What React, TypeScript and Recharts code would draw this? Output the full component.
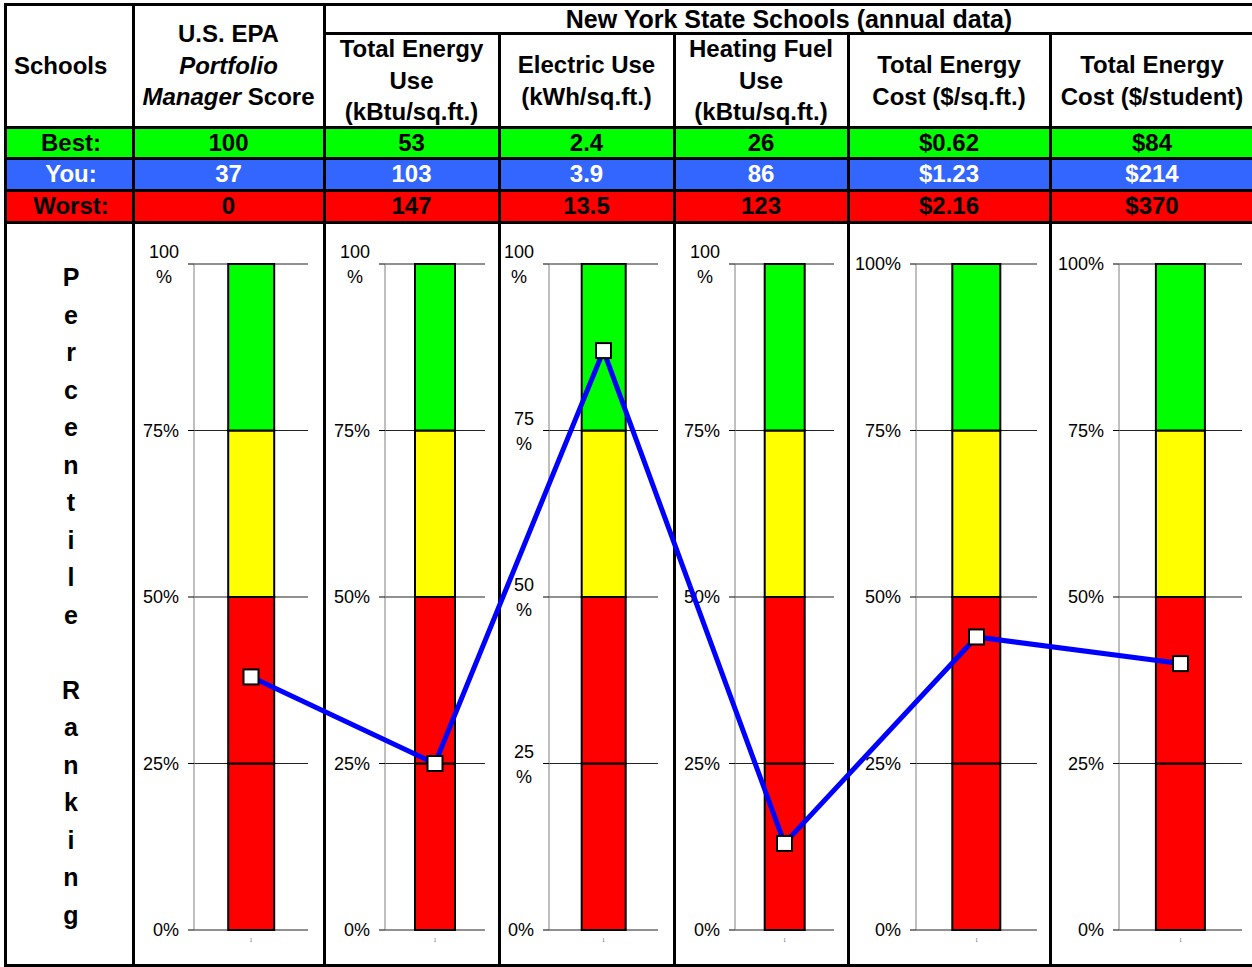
import React from "react";
import { BarChart, Bar, XAxis, YAxis, CartesianGrid, LineChart, Line } from "recharts";

const rowLabels = ["Best:", "You:", "Worst:"];
const bestValues = ["100", "53", "2.4", "26", "$0.62", "$84"];
const youValues = ["37", "103", "3.9", "86", "$1.23", "$214"];
const worstValues = ["0", "147", "13.5", "123", "$2.16", "$370"];

// percentile ranking of "You" in each column (blue line)
const percentileRanks = [38, 25, 87, 13, 44, 40];

// stacked band segments of each thermometer bar (0-25, 25-50, 50-75, 75-100)
const bandSizes = [25, 25, 25, 25];
const yTicks = [0, 25, 50, 75, 100];

const subHeaders = [
  ["Total Energy", "Use", "(kBtu/sq.ft.)"],
  ["Electric Use", "(kWh/sq.ft.)"],
  ["Heating Fuel", "Use", "(kBtu/sq.ft.)"],
  ["Total Energy", "Cost ($/sq.ft.)"],
  ["Total Energy", "Cost ($/student)"],
];

// ---- layout ----
const FONT = "'Liberation Sans', Arial, sans-serif";
const colX = [5, 133, 324, 499, 674, 848, 1050, 1254];
const TOP = 4;
const SUB_TOP = 33;
const ROW_Y = [127, 158, 190, 222];
const BOTTOM = 965;
const CHART_H = BOTTOM - ROW_Y[3];
const rowColors = ["#00FF00", "#3366FF", "#FF0000"];
const rowText = ["#000", "#fff", "#000"];
const bandColors = ["#FF0000", "#FF0000", "#FFFF00", "#00FF00"];

// per panel: y-axis width, right margin, tick labels that wrap onto two lines
const panels = [
  { yw: 60, right: 16, wrap: [100] },
  { yw: 60, right: 14, wrap: [100] },
  { yw: 49, right: 16, wrap: [100, 75, 50, 25] },
  { yw: 60, right: 14, wrap: [100] },
  { yw: 67, right: 13, wrap: [] },
  { yw: 68, right: 12, wrap: [] },
];

const panelLeft = (i: number) => colX[i + 1] + 1;
const panelWidth = (i: number) => colX[i + 2] - colX[i + 1] - 1;
const panelCenter = (i: number) => {
  const p = panels[i];
  const plotW = panelWidth(i) - p.yw - p.right;
  return panelLeft(i) + p.yw + plotW / 2;
};

function PctTick(props: any) {
  const { x, y, payload, wrap } = props;
  const v = payload.value;
  if (wrap.includes(v)) {
    const num = String(v);
    const cx = x - (num.length * 10) / 2;
    return (
      <g>
        <text x={cx} y={y - 12} textAnchor="middle" dominantBaseline="central" fontFamily={FONT} fontSize={18} fill="#000">{num}</text>
        <text x={cx} y={y + 13} textAnchor="middle" dominantBaseline="central" fontFamily={FONT} fontSize={18} fill="#000">%</text>
      </g>
    );
  }
  return (
    <text x={x} y={y} textAnchor="end" dominantBaseline="central" fontFamily={FONT} fontSize={18} fill="#000">{v}%</text>
  );
}

function Panel({ index }: { index: number }) {
  const p = panels[index];
  const row: any = { name: "1" };
  bandSizes.forEach((s, k) => (row["b" + k] = s));
  return (
    <div style={{ position: "absolute", left: panelLeft(index), top: ROW_Y[3], width: panelWidth(index), height: CHART_H }}>
      <BarChart width={panelWidth(index)} height={CHART_H} data={[row]} margin={{ top: 42, right: p.right, bottom: 15, left: 0 }} barCategoryGap="30%">
        <CartesianGrid vertical={false} stroke="#222" />
        <XAxis dataKey="name" height={20} axisLine={false} tickLine={false} tickMargin={2} tick={{ fontSize: 6, fill: "#666" }} />
        <YAxis
          domain={[0, 100]}
          ticks={yTicks}
          interval={0}
          width={p.yw}
          tickSize={6}
          tickMargin={9}
          stroke="#808080"
          tickLine={{ stroke: "#000" }}
          tick={(t: any) => <PctTick {...t} wrap={p.wrap} />}
        />
        {bandSizes.map((_, k) => (
          <Bar key={k} dataKey={"b" + k} stackId="a" fill={bandColors[k]} stroke="#000" strokeWidth={2} isAnimationActive={false} />
        ))}
      </BarChart>
    </div>
  );
}

const SquareDot = (props: any) => {
  const { cx, cy } = props;
  if (cx == null || cy == null) return null;
  return <rect x={cx - 7.5} y={cy - 7.5} width={15} height={15} fill="#fff" stroke="#000" strokeWidth={2} />;
};

const hLine = (y: number, x1: number, x2: number, key: string) => (
  <div key={key} style={{ position: "absolute", left: x1 - 1.5, top: y - 1.5, width: x2 - x1 + 3, height: 3, background: "#000" }} />
);
const vLine = (x: number, y1: number, y2: number, key: string) => (
  <div key={key} style={{ position: "absolute", left: x - 1.5, top: y1 - 1.5, width: 3, height: y2 - y1 + 3, background: "#000" }} />
);

const cellText: React.CSSProperties = {
  position: "absolute",
  display: "flex",
  flexDirection: "column",
  alignItems: "center",
  justifyContent: "center",
  fontFamily: FONT,
  fontWeight: "bold",
  fontSize: 24,
  lineHeight: "31.5px",
  textAlign: "center",
  whiteSpace: "nowrap",
  color: "#000",
};

export default function App() {
  const lineData = percentileRanks.map((r, i) => ({ x: panelCenter(i), rank: r }));
  const rowValues = [bestValues, youValues, worstValues];
  const letters = "Percentile Ranking".split("");
  return (
    <div style={{ position: "absolute", left: 0, top: 0, width: 1252, height: 967, overflow: "hidden", background: "#fff" }}>
      {/* colored rows */}
      {rowColors.map((c, r) => (
        <div key={"bg" + r} style={{ position: "absolute", left: colX[0], top: ROW_Y[r], width: 1254 - colX[0], height: ROW_Y[r + 1] - ROW_Y[r], background: c }} />
      ))}

      {/* header texts */}
      <div style={{ ...cellText, left: 14, top: TOP, height: ROW_Y[0] - TOP, alignItems: "flex-start" }}>Schools</div>
      <div style={{ ...cellText, left: colX[1], top: TOP, width: colX[2] - colX[1], height: ROW_Y[0] - TOP }}>
        <div>U.S. EPA</div>
        <div><i>Portfolio</i></div>
        <div><i>Manager</i> Score</div>
      </div>
      <div style={{ ...cellText, left: colX[2], top: TOP + 1, width: 1254 - colX[2], height: SUB_TOP - TOP, fontSize: 25 }}>New York State Schools (annual data)</div>
      {subHeaders.map((lines, i) => (
        <div key={"sh" + i} style={{ ...cellText, left: colX[i + 2], top: SUB_TOP + 1, width: colX[i + 3] - colX[i + 2], height: ROW_Y[0] - SUB_TOP - 1, overflow: "hidden" }}>
          {lines.map((l, k) => <div key={k}>{l}</div>)}
        </div>
      ))}

      {/* Best / You / Worst rows */}
      {rowValues.map((vals, r) => (
        <React.Fragment key={"row" + r}>
          <div style={{ ...cellText, left: colX[0], top: ROW_Y[r], width: colX[1] - colX[0] + 4, height: ROW_Y[r + 1] - ROW_Y[r], color: rowText[r] }}>{rowLabels[r]}</div>
          {vals.map((v, i) => (
            <div key={i} style={{ ...cellText, left: colX[i + 1], top: ROW_Y[r], width: colX[i + 2] - colX[i + 1], height: ROW_Y[r + 1] - ROW_Y[r], color: rowText[r] }}>{v}</div>
          ))}
        </React.Fragment>
      ))}

      {/* vertical "Percentile Ranking" label */}
      <div style={{ ...cellText, left: colX[0] + 2, top: ROW_Y[3] + 3, width: colX[1] - colX[0], height: BOTTOM - ROW_Y[3], fontSize: 25, lineHeight: "37.5px" }}>
        {letters.map((ch, k) => <div key={k} style={{ height: 37.5 }}>{ch === " " ? "\u00a0" : ch}</div>)}
      </div>

      {/* thermometer panels */}
      {panels.map((_, i) => <Panel key={i} index={i} />)}

      {/* grid borders */}
      {hLine(TOP, colX[0], 1254, "t")}
      {hLine(SUB_TOP, colX[2], 1254, "s")}
      {ROW_Y.map((y, k) => hLine(y, colX[0], 1254, "r" + k))}
      {hLine(BOTTOM, colX[0], 1254, "b")}
      {vLine(colX[0], TOP, BOTTOM, "v0")}
      {vLine(colX[1], TOP, BOTTOM, "v1")}
      {vLine(colX[2], TOP, BOTTOM, "v2")}
      {colX.slice(3).map((x, k) => vLine(x, SUB_TOP, BOTTOM, "vv" + k))}

      {/* blue percentile line across all panels */}
      <div style={{ position: "absolute", left: 0, top: ROW_Y[3], pointerEvents: "none" }}>
        <LineChart width={1252} height={CHART_H} data={lineData} margin={{ top: 42, right: 0, bottom: 35, left: 0 }}>
          <XAxis type="number" dataKey="x" domain={[0, 1252]} hide />
          <YAxis domain={[0, 100]} hide />
          <Line dataKey="rank" stroke="none" dot={<SquareDot />} isAnimationActive={false} />
          <Line dataKey="rank" stroke="#0000FF" strokeWidth={5} dot={false} isAnimationActive={false} />
        </LineChart>
      </div>
    </div>
  );
}
